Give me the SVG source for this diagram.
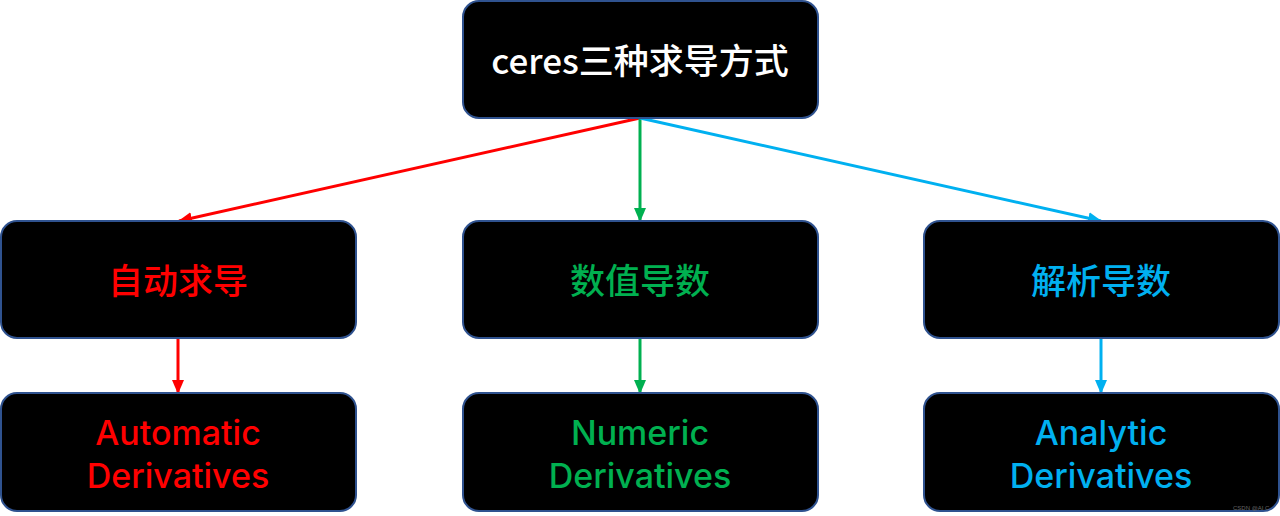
<svg xmlns="http://www.w3.org/2000/svg" width="1280" height="516" viewBox="0 0 1280 516">
<defs>
<style>
.node{fill:#000;stroke:#2F528F;stroke-width:2}
.t{font-family:"Noto Sans CJK SC","Noto Sans",sans-serif;font-size:35px;font-weight:500;text-anchor:middle;dominant-baseline:central}
.e{font-family:Inter,"Noto Sans",sans-serif;font-size:34px;font-weight:500}
.w{fill:#fff}.r{fill:#FF0000}.g{fill:#00B050}.b{fill:#00B0F0}
.c{fill:none;stroke-width:3}
</style>
<marker id="ar" markerUnits="userSpaceOnUse" markerWidth="14" markerHeight="12" refX="13" refY="6" orient="auto"><path d="M0,0 L14,6 L0,12 Z" fill="#FF0000"/></marker>
<marker id="ag" markerUnits="userSpaceOnUse" markerWidth="14" markerHeight="12" refX="13" refY="6" orient="auto"><path d="M0,0 L14,6 L0,12 Z" fill="#00B050"/></marker>
<marker id="ab" markerUnits="userSpaceOnUse" markerWidth="14" markerHeight="12" refX="13" refY="6" orient="auto"><path d="M0,0 L14,6 L0,12 Z" fill="#00B0F0"/></marker>
</defs>
<rect width="1280" height="516" fill="#fff"/>
<g id="connectors">
<line class="c" x1="640" y1="118" x2="179" y2="221" stroke="#FF0000" marker-end="url(#ar)"/>
<line class="c" x1="640" y1="118" x2="640" y2="221" stroke="#00B050" marker-end="url(#ag)"/>
<line class="c" x1="640" y1="118" x2="1101" y2="221" stroke="#00B0F0" marker-end="url(#ab)"/>
<line class="c" x1="178" y1="338" x2="178" y2="393" stroke="#FF0000" marker-end="url(#ar)"/>
<line class="c" x1="640" y1="338" x2="640" y2="393" stroke="#00B050" marker-end="url(#ag)"/>
<line class="c" x1="1101" y1="338" x2="1101" y2="393" stroke="#00B0F0" marker-end="url(#ab)"/>
</g>
<g id="root"><rect class="node" x="463" y="1" width="355" height="117" rx="16"/><text class="t w" x="640" y="58">ceres三种求导方式</text></g>
<g id="auto"><rect class="node" x="1" y="221" width="355" height="117" rx="16"/><text class="t r" x="178" y="278">自动求导</text></g>
<g id="numeric"><rect class="node" x="463" y="221" width="355" height="117" rx="16"/><text class="t g" x="640" y="278">数值导数</text></g>
<g id="analytic"><rect class="node" x="924" y="221" width="355" height="117" rx="16"/><text class="t b" x="1101" y="278">解析导数</text></g>
<g id="auto-en"><rect class="node" x="1" y="393" width="355" height="118" rx="16"/><text class="t e r" x="178" y="432">Automatic</text><text class="t e r" x="178" y="475">Derivatives</text></g>
<g id="numeric-en"><rect class="node" x="463" y="393" width="355" height="118" rx="16"/><text class="t e g" x="640" y="432">Numeric</text><text class="t e g" x="640" y="475">Derivatives</text></g>
<g id="analytic-en"><rect class="node" x="924" y="393" width="355" height="118" rx="16"/><text class="t e b" x="1101" y="432">Analytic</text><text class="t e b" x="1101" y="475">Derivatives</text></g>
<text x="1233" y="510" font-family="Liberation Sans,sans-serif" font-size="6" fill="#666">CSDN @AI C</text>
</svg>
